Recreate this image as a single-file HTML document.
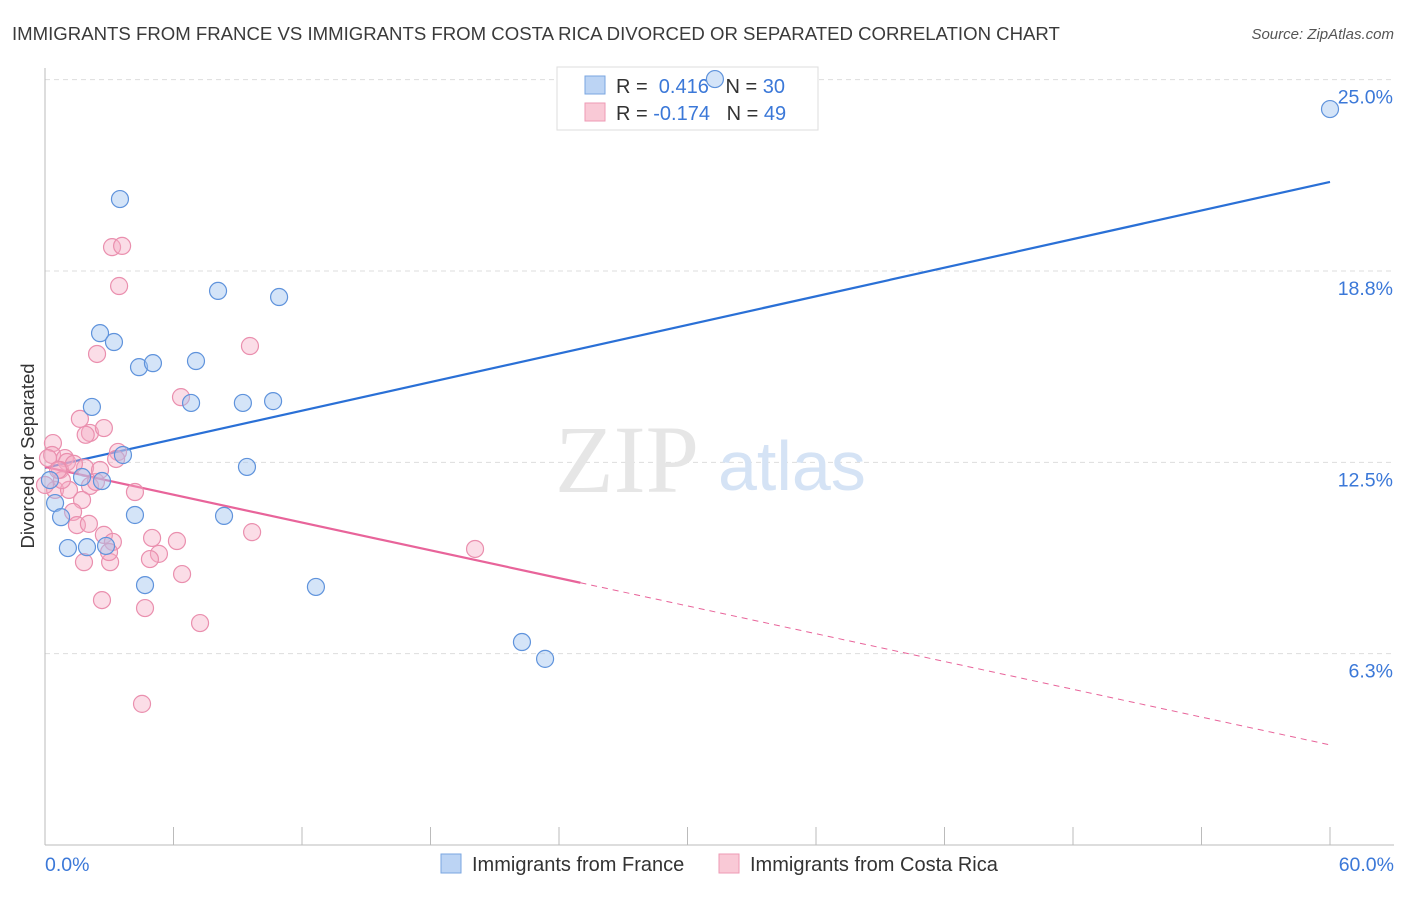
<!DOCTYPE html>
<html><head><meta charset="utf-8"><style>
body{margin:0;background:#fff;font-family:"Liberation Sans",sans-serif}
svg text{font-family:"Liberation Sans",sans-serif;white-space:pre}
</style></head><body>
<svg id="chart" width="1406" height="892" viewBox="0 0 1406 892">
<text x="12" y="40" font-size="18.6" fill="#3a3a3a">IMMIGRANTS FROM FRANCE VS IMMIGRANTS FROM COSTA RICA DIVORCED OR SEPARATED CORRELATION CHART</text>
<text x="1394" y="39" font-size="15" fill="#555" font-style="italic" text-anchor="end">Source: ZipAtlas.com</text>
<g id="grid"></g>
<g id="axes"></g>
<text x="555" y="492" font-size="96" fill="#e6e6e6" style="font-family:'Liberation Serif',serif">ZIP</text>
<text x="718" y="490" font-size="70" fill="#d5e3f5">atlas</text>
<g>
<rect x="557" y="67" width="261" height="63" fill="#fff" stroke="#ddd"/>
<rect x="585" y="76" width="20" height="18" fill="#bcd4f4" stroke="#7aa6e0"/>
<rect x="585" y="103" width="20" height="18" fill="#f9c9d6" stroke="#ee9ab4"/>
<text x="616" y="93" font-size="20" fill="#333">R =  <tspan fill="#3b78d8">0.416</tspan>   N = <tspan fill="#3b78d8">30</tspan></text>
<text x="616" y="120" font-size="20" fill="#333">R = <tspan fill="#3b78d8">-0.174</tspan>   N = <tspan fill="#3b78d8">49</tspan></text>
</g>
<g id="lines"></g>
<g id="points"></g>
<text transform="translate(34,456) rotate(-90)" font-size="18.5" fill="#333" text-anchor="middle">Divorced or Separated</text>
<g>
<rect x="441" y="854" width="20" height="19" fill="#bcd4f4" stroke="#7aa6e0"/>
<text x="472" y="871" font-size="20" fill="#333">Immigrants from France</text>
<rect x="719" y="854" width="20" height="19" fill="#f9c9d6" stroke="#ee9ab4"/>
<text x="750" y="871" font-size="20" fill="#333">Immigrants from Costa Rica</text>
</g>
</svg>
<script>
const yTicks=[6.25,12.5,18.75,25];
const yTickLabels=["6.3%","12.5%","18.8%","25.0%"];
const xTickCount=[0,6,12,18,24,30,36,42,48,54,60];
const xEndLabels=["0.0%","60.0%"];
const franceX=[3.50,2.57,3.22,4.39,5.04,7.05,8.08,10.93,2.19,6.82,9.24,10.65,3.64,9.43,0.47,0.75,1.07,1.96,2.85,4.20,8.36,4.67,12.65,22.27,23.35,31.28,60.0,1.73,0.23,2.66];
const franceY=[21.10,16.72,16.43,15.61,15.74,15.81,18.10,17.90,14.31,14.44,14.44,14.50,12.74,12.35,11.17,10.71,9.70,9.73,9.77,10.78,10.75,8.49,8.43,6.63,6.08,25.02,24.04,12.02,11.92,11.89];
const costaX=[3.13,3.60,3.46,2.43,9.57,6.35,1.63,2.10,2.75,0.37,3.41,3.32,0.33,0.93,1.03,0.70,1.87,0.47,1.12,2.10,2.38,1.73,4.20,1.31,1.49,2.05,2.75,3.17,1.82,3.04,5.00,6.16,5.32,4.90,6.40,2.99,2.66,4.67,7.24,4.53,9.67,20.08,0.14,1.35,0.79,0.0,0.61,2.57,1.9];
const costaY=[19.53,19.57,18.26,16.04,16.30,14.63,13.92,13.46,13.62,13.13,12.84,12.61,12.74,12.64,12.51,12.25,12.32,11.60,11.60,11.73,11.86,11.27,11.53,10.88,10.45,10.49,10.13,9.90,9.24,9.24,10.03,9.93,9.51,9.34,8.85,9.57,8.00,7.74,7.25,4.61,10.22,9.67,12.64,12.45,11.92,11.76,12.25,12.25,13.40];
const franceTrend=[12.32,21.66];
const costaTrend=[12.35,3.27];
const costaSolidEnd=25;
const X=v=>45+v/60*1285, Y=v=>845-v/6.25*191.33;
const NS="http://www.w3.org/2000/svg";
function mk(tag,attrs,parent){const e=document.createElementNS(NS,tag);for(const k in attrs)e.setAttribute(k,attrs[k]);parent.appendChild(e);return e;}
const grid=document.getElementById('grid'),axes=document.getElementById('axes'),lines=document.getElementById('lines'),pts=document.getElementById('points');
yTicks.forEach((t,i)=>{
 const l=mk('line',{x1:45,x2:1394,y1:Y(t),y2:Y(t),stroke:'#ddd','stroke-dasharray':'5,4'},grid);
 
 
 const tx=mk('text',{x:1393,y:Y(t)+24,'font-size':19.5,fill:'#3b78d8','text-anchor':'end'},axes);
 tx.textContent=yTickLabels[i];
 
 
});
const ax=mk('line',{x1:45,x2:1394,y1:845,y2:845,stroke:'#bbb'},axes);


const ay=mk('line',{x1:45,x2:45,y1:68,y2:845,stroke:'#bbb'},axes);


xTickCount.forEach(t=>{
 const l=mk('line',{x1:X(t),x2:X(t),y1:827,y2:845,stroke:'#bbb'},axes);
 
 
});
[[0,'start',45],[60,'end',1394]].forEach((d,i)=>{
 const tx=mk('text',{x:d[2],y:871,'font-size':19.5,fill:'#3b78d8','text-anchor':d[1]},axes);
 tx.textContent=xEndLabels[i];
 
 
});
const bl=mk('line',{x1:X(0),y1:Y(franceTrend[0]),x2:X(60),y2:Y(franceTrend[1]),stroke:'#2a70d6','stroke-width':2.2},lines);


const cy=v=>costaTrend[0]+(costaTrend[1]-costaTrend[0])*v/60;
const pl=mk('line',{x1:X(0),y1:Y(cy(0)),x2:X(costaSolidEnd),y2:Y(cy(costaSolidEnd)),stroke:'#e8649a','stroke-width':2.2},lines);


const pd=mk('line',{x1:X(costaSolidEnd),y1:Y(cy(costaSolidEnd)),x2:X(60),y2:Y(cy(60)),stroke:'#e8649a','stroke-width':1,'stroke-dasharray':'6,5'},lines);


costaX.forEach((v,i)=>{
 const c=mk('circle',{cx:X(v),cy:Y(costaY[i]),r:8.5,fill:'rgba(244,170,195,0.4)',stroke:'#ea8fae','stroke-width':1.2},pts);
 
 
});
franceX.forEach((v,i)=>{
 const c=mk('circle',{cx:X(v),cy:Y(franceY[i]),r:8.5,fill:'rgba(160,196,240,0.45)',stroke:'#5f93dc','stroke-width':1.2},pts);
 
 
});
</script>
</body></html>
